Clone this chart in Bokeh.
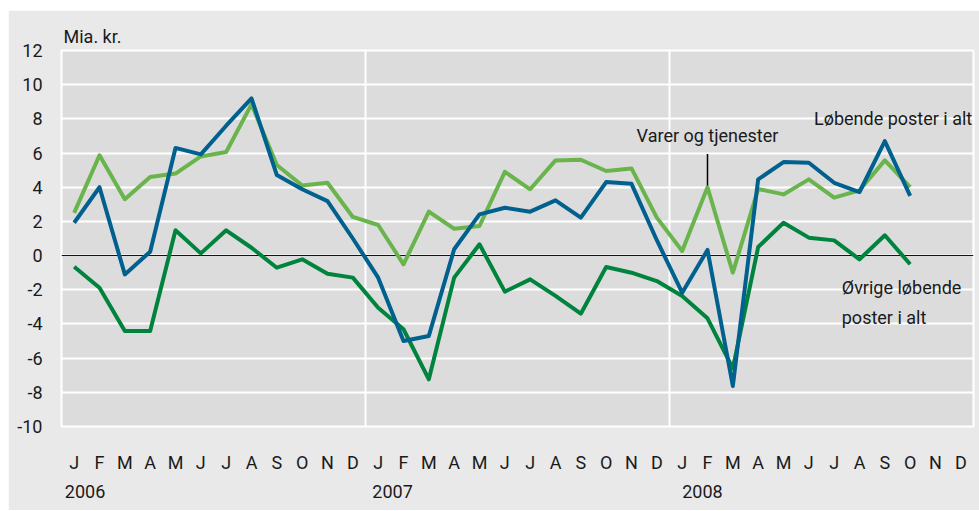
from bokeh.plotting import figure
from bokeh.models import FixedTicker, LinearAxis, Range1d, Span, Label
from bokeh.embed import file_html
from bokeh.resources import INLINE

months = ["J", "F", "M", "A", "M", "J", "J", "A", "S", "O", "N", "D"] * 3
years = ["2006", "2007", "2008"]
y_ticks = [-10, -8, -6, -4, -2, 0, 2, 4, 6, 8, 10, 12]
y_tick_labels = ["-10", "-8", "-6", "-4", "-2", "0", "2", "4", "6", "8", "10", "12"]

# Jan 2006 .. Oct 2008, billion DKK
varer = [2.5, 5.87, 3.3, 4.6, 4.8, 5.8, 6.06, 8.85, 5.3, 4.1, 4.26, 2.26,
         1.79, -0.51, 2.57, 1.57, 1.73, 4.9, 3.88, 5.57, 5.61, 4.95, 5.1, 2.22,
         0.27, 4.0, -1.0, 3.9, 3.58, 4.46, 3.39, 3.82, 5.57, 4.0]
lobende = [1.92, 4.0, -1.1, 0.23, 6.3, 5.92, 7.6, 9.2, 4.71, 3.88, 3.19, 1.0,
           -1.29, -5.0, -4.7, 0.37, 2.41, 2.8, 2.57, 3.23, 2.22, 4.3, 4.2, 0.9,
           -2.17, 0.33, -7.63, 4.46, 5.47, 5.43, 4.26, 3.72, 6.7, 3.49]
ovrige = [-0.65, -1.88, -4.41, -4.41, 1.48, 0.13, 1.48, 0.46, -0.71, -0.22, -1.06, -1.29,
          -3.05, -4.31, -7.24, -1.29, 0.66, -2.11, -1.39, -2.36, -3.4, -0.67, -1.0, -1.49,
          -2.36, -3.67, -6.6, 0.5, 1.92, 1.05, 0.89, -0.22, 1.19, -0.51]

x = [i + 0.5 for i in range(len(varer))]

FONT = "Roboto"
FS = "18px"
TXT = "#1a1a1a"

p = figure(width=971, height=500, x_range=Range1d(0, 36), y_range=Range1d(-10, 12),
           output_backend="svg", toolbar_location=None,
           min_border_left=53, min_border_right=6, min_border_top=40, min_border_bottom=84,
           title="Mia. kr.")
p.margin = (10, 0, 0, 8)
p.border_fill_color = "#e9e9e9"
p.background_fill_color = "#dcdcdc"
p.outline_line_color = "white"
p.outline_line_width = 2

p.title.text_font = FONT
p.title.text_font_size = FS
p.title.text_font_style = "normal"
p.title.text_color = TXT
p.title.align = "left"
p.title.offset = 2
p.title.standoff = 8

# y axis
yt = FixedTicker(ticks=y_ticks)
p.yaxis.ticker = yt
p.yaxis.major_label_overrides = {v: s for v, s in zip(y_ticks, y_tick_labels)}
p.yaxis.axis_line_color = None
p.yaxis.major_tick_line_color = None
p.yaxis.minor_tick_line_color = None
p.yaxis.major_label_standoff = 13
p.yaxis.major_label_text_font = FONT
p.yaxis.major_label_text_font_size = FS
p.yaxis.major_label_text_color = TXT

# x axis months
mt = [i + 0.5 for i in range(36)]
p.xaxis.ticker = FixedTicker(ticks=mt)
p.xaxis.major_label_overrides = {t: m for t, m in zip(mt, months)}
p.xaxis.axis_line_color = None
p.xaxis.major_tick_line_color = None
p.xaxis.minor_tick_line_color = None
p.xaxis.major_label_standoff = 19
p.xaxis.major_label_text_font = FONT
p.xaxis.major_label_text_font_size = FS
p.xaxis.major_label_text_color = TXT

# year axis
year_pos = [0.93, 13.07, 25.3]
ya = LinearAxis(ticker=FixedTicker(ticks=year_pos),
                major_label_overrides={t: s for t, s in zip(year_pos, years)})
ya.axis_line_color = None
ya.major_tick_line_color = None
ya.minor_tick_line_color = None
ya.major_label_standoff = 3
ya.major_label_text_font = FONT
ya.major_label_text_font_size = FS
ya.major_label_text_color = TXT
p.add_layout(ya, "below")

# grids
p.ygrid.ticker = yt
p.ygrid.grid_line_color = "white"
p.ygrid.grid_line_width = 2
p.xgrid.ticker = FixedTicker(ticks=[12, 24])
p.xgrid.grid_line_color = "white"
p.xgrid.grid_line_width = 2

p.add_layout(Span(location=0, dimension="width", line_color="black", line_width=1, level="underlay"))

p.line(x, varer, line_color="#6ab44d", line_width=4, line_join="round")
p.line(x, ovrige, line_color="#00843d", line_width=4, line_join="round")
p.line(x, lobende, line_color="#00608e", line_width=4, line_join="round")

# annotations
def lab(xv, yv, txt, align):
    p.add_layout(Label(x=xv, y=yv, text=txt, text_font=FONT, text_font_size=FS,
                       text_color=TXT, text_align=align, text_baseline="middle"))

lab(25.5, 7.0, "Varer og tjenester", "center")
p.segment(x0=[25.5], y0=[varer[25] + 0.1], x1=[25.5], y1=[5.95], line_color="black", line_width=1.5)
lab(35.95, 8.0, "Løbende poster i alt", "right")
lab(30.8, -1.85, "Øvrige løbende", "left")
lab(30.8, -3.6, "poster i alt", "left")

open("out.html", "w").write(file_html(p, INLINE))
